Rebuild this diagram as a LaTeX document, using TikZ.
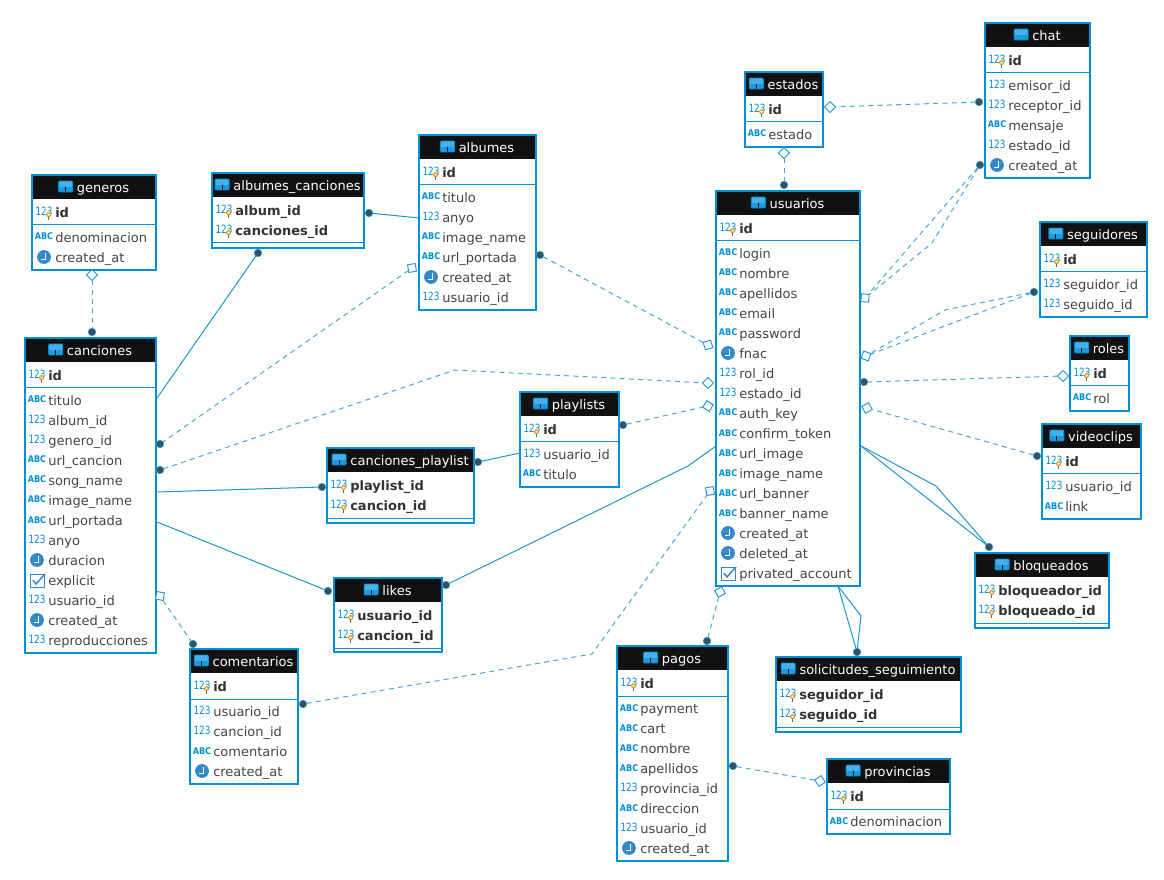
\documentclass[tikz,border=0pt]{standalone}
\usepackage{fontspec}
\setmainfont{DejaVu Sans}
\usetikzlibrary{shapes.geometric}
\definecolor{brd}{HTML}{0090D4}
\definecolor{band}{HTML}{111111}
\definecolor{coltxt}{HTML}{454545}
\definecolor{pktxt}{HTML}{333333}
\definecolor{relc}{HTML}{1F96D2}
\definecolor{dashc}{HTML}{45A8DC}
\definecolor{dotc}{HTML}{38505F}
\definecolor{clk}{HTML}{3489C9}
\definecolor{tablight}{HTML}{45B0EA}
\definecolor{tabdark}{HTML}{1F9AE0}
\definecolor{keyc}{HTML}{E68F12}
\definecolor{keyin}{HTML}{FFEFC8}
\definecolor{stemc}{HTML}{55677A}
\tikzset{
 x=0.75pt,y=-0.75pt,
 tblbox/.style={draw=brd,line width=1.5pt,fill=white,anchor=north west,inner sep=0pt,outer sep=0pt},
 titletxt/.style={anchor=base,inner sep=0pt,text=white,font=\fontsize{9.75}{12}\selectfont},
 coltext/.style={anchor=base west,inner sep=0pt,text=coltxt,font=\fontsize{9.75}{12}\selectfont},
 pktext/.style={anchor=base west,inner sep=0pt,text=pktxt,font=\fontsize{9.75}{12}\selectfont\bfseries},
 numico/.style={anchor=base,inner sep=0pt,text=brd,xscale=.78,transform shape,font=\fontsize{8.5}{10}\selectfont},
 abcico/.style={anchor=base,inner sep=0pt,text=brd,xscale=.88,transform shape,font=\fontsize{6.9}{8}\selectfont\bfseries},
 sepline/.style={draw=brd,line width=0.75pt},
 rel/.style={draw=relc,line width=0.75pt},
 reld/.style={draw=dashc,line width=0.75pt,dash pattern=on 3.75pt off 3.2pt},
 dotn/.style={circle,fill=dotc,draw=relc,line width=0.5pt,minimum size=5.6pt,inner sep=0pt,outer sep=0pt},
 dia/.style={diamond,shape aspect=1,draw=relc,fill=white,line width=0.7pt,minimum size=8.2pt,inner sep=0pt,outer sep=0pt},
}
\newcounter{rowc}
\newcommand\tbl[6]{%
 \def\tbx{#2}\pgfmathsetmacro\cury{#3+37}%
 \pgfmathsetmacro\wdd{(#4-#2)*0.75}\pgfmathsetmacro\htt{(#5-#3)*0.75}%
 \node[tblbox,minimum width=\wdd pt,minimum height=\htt pt] (#1) at (#2,#3) {};
 \fill[band] (#2+1,#3+1) rectangle (#4-1,#3+24);
 \pgfmathsetmacro\tc{(#2+#4)/2+9}%
 \node[titletxt] (#1-title) at (\tc,#3+17.4) {#6};
 \path (#1-title.west);\pgfgetlastxy{\ax}{\ay}%
 \pgfmathsetmacro\tl{\ax/0.75-18}%
 \tabicon{\tl}{#3+6}%
 \def\tbr{#4}%
}
\newcommand\tabicon[2]{%
 \fill[tablight] (#1,#2) rectangle (#1+14,#2+5.6);
 \fill[tabdark] (#1,#2+6.4) rectangle (#1+6.6,#2+11);
 \fill[tabdark] (#1+7.4,#2+6.4) rectangle (#1+14,#2+11);
 \draw[brd,line width=0.7pt,rounded corners=0.8pt] (#1,#2) rectangle (#1+14,#2+11);
}
\newcommand\nextrow{\pgfmathsetmacro\cury{\cury+20}}
\newcommand\numicon{\stepcounter{rowc}\node[numico] (i\arabic{rowc}) at (\tbx+12,\cury+3.2) {123};}
\newcommand\pk[1]{%
 \numicon
 \draw[stemc,line width=0.75pt] (\tbx+16.6,\cury+4.5) -- (\tbx+16.6,\cury+8);
 \draw[keyc,fill=keyin,line width=0.75pt] (\tbx+16.6,\cury+2.6) circle (1.5pt);
 \stepcounter{rowc}\node[pktext] (r\arabic{rowc}) at (\tbx+23,\cury+5.6) {#1};
 \nextrow}
\newcommand\sep{\draw[sepline] (\tbx+1,\cury-7) -- (\tbr-1,\cury-7);\pgfmathsetmacro\cury{\cury+5}}
\newcommand\coltxtn[1]{\stepcounter{rowc}\node[coltext] (r\arabic{rowc}) at (\tbx+23,\cury+5.6) {#1};\nextrow}
\newcommand\num[1]{\numicon\coltxtn{#1}}
\newcommand\abc[1]{\stepcounter{rowc}\node[abcico] (i\arabic{rowc}) at (\tbx+12,\cury+3) {ABC};\coltxtn{#1}}
\newcommand\dat[1]{%
 \fill[clk] (\tbx+12,\cury) circle (5.2pt);
 \draw[white,line width=0.6pt] (\tbx+13,\cury-4) -- (\tbx+13,\cury+2) -- (\tbx+8.5,\cury+2);
 \coltxtn{#1}}
\newcommand\chk[1]{%
 \draw[clk,fill=white,line width=0.7pt] (\tbx+5,\cury-6) rectangle (\tbx+19,\cury+7);
 \draw[clk,line width=1.1pt] (\tbx+8,\cury) -- (\tbx+11,\cury+4) -- (\tbx+20,\cury-6);
 \coltxtn{#1}}
\begin{document}
\begin{tikzpicture}
\useasboundingbox (0,0) rectangle (1164,880);
\fill[white] (0,0) rectangle (1164,880);

\tbl{chat}{985}{23}{1090}{178}{chat}
\pk{id}\sep\num{emisor\_id}\num{receptor\_id}\abc{mensaje}\num{estado\_id}\dat{created\_at}

\tbl{estados}{745}{72}{823}{147}{estados}
\pk{id}\sep\abc{estado}

\tbl{usuarios}{716}{191}{860}{586}{usuarios}
\pk{id}\sep\abc{login}\abc{nombre}\abc{apellidos}\abc{email}\abc{password}\dat{fnac}\num{rol\_id}\num{estado\_id}\abc{auth\_key}\abc{confirm\_token}\abc{url\_image}\abc{image\_name}\abc{url\_banner}\abc{banner\_name}\dat{created\_at}\dat{deleted\_at}\chk{privated\_account}

\tbl{seguidores}{1040}{222}{1147}{317}{seguidores}
\pk{id}\sep\num{seguidor\_id}\num{seguido\_id}

\tbl{roles}{1070}{336}{1129}{411}{roles}
\pk{id}\sep\abc{rol}

\tbl{videoclips}{1042}{424}{1141}{519}{videoclips}
\pk{id}\sep\num{usuario\_id}\abc{link}

\tbl{bloqueados}{975}{553}{1109}{628}{bloqueados}
\pk{bloqueador\_id}\pk{bloqueado\_id}\sep

\tbl{solicitudes}{776}{657}{961}{732}{solicitudes\_seguimiento}
\pk{seguidor\_id}\pk{seguido\_id}\sep

\tbl{pagos}{617}{646}{728}{861}{pagos}
\pk{id}\sep\abc{payment}\abc{cart}\abc{nombre}\abc{apellidos}\num{provincia\_id}\abc{direccion}\num{usuario\_id}\dat{created\_at}

\tbl{provincias}{827}{759}{950}{834}{provincias}
\pk{id}\sep\abc{denominacion}

\tbl{comentarios}{190}{649}{298}{784}{comentarios}
\pk{id}\sep\num{usuario\_id}\num{cancion\_id}\abc{comentario}\dat{created\_at}

\tbl{likes}{334}{578}{442}{652}{likes}
\pk{usuario\_id}\pk{cancion\_id}\sep

\tbl{cplaylist}{327}{448}{474}{523}{canciones\_playlist}
\pk{playlist\_id}\pk{cancion\_id}\sep

\tbl{playlists}{520}{392}{619}{487}{playlists}
\pk{id}\sep\num{usuario\_id}\abc{titulo}

\tbl{albumes}{419}{135}{536}{310}{albumes}
\pk{id}\sep\abc{titulo}\num{anyo}\abc{image\_name}\abc{url\_portada}\dat{created\_at}\num{usuario\_id}

\tbl{acanciones}{212}{173}{364}{248}{albumes\_canciones}
\pk{album\_id}\pk{canciones\_id}\sep

\tbl{generos}{32}{175}{156}{270}{generos}
\pk{id}\sep\abc{denominacion}\dat{created\_at}

\tbl{canciones}{25}{338}{156}{653}{canciones}
\pk{id}\sep\abc{titulo}\num{album\_id}\num{genero\_id}\abc{url\_cancion}\abc{song\_name}\abc{image\_name}\abc{url\_portada}\num{anyo}\dat{duracion}\chk{explicit}\num{usuario\_id}\dat{created\_at}\num{reproducciones}

% end markers
\node[dia] (m1) at (92,275) {};
\node[dotn] (d1) at (92,332) {};
\draw[reld] (m1) -- (d1);

\node[dotn] (d2) at (258,253) {};
\coordinate (c2) at (157,398);
\draw[rel] (d2) -- (c2);

\node[dotn] (d3) at (369,213) {};
\coordinate (c3) at (419,218);
\draw[rel] (d3) -- (c3);

\node[dia,rotate=-35] (m4) at (412,268) {};
\node[dotn] (d4) at (160,444) {};
\draw[reld] (m4) -- (d4);

\node[dotn] (d5) at (540,255) {};
\node[dia,rotate=-28] (m5) at (708,345) {};
\draw[reld] (d5) -- (m5);

\node[dotn] (d6) at (160,470) {};
\coordinate (c6) at (455,370);
\node[dia] (m6) at (708,383) {};
\draw[reld] (d6) -- (c6) -- (m6);

\coordinate (c7) at (157,492);
\node[dotn] (d7) at (322,487) {};
\draw[rel] (c7) -- (d7);

\node[dotn] (d8) at (478,462) {};
\coordinate (c8) at (520,453);
\draw[rel] (d8) -- (c8);

\node[dotn] (d9) at (623,425) {};
\node[dia,rotate=13] (m9) at (708,406) {};
\draw[reld] (d9) -- (m9);

\coordinate (c10) at (157,522);
\node[dotn] (d10) at (328,591) {};
\draw[rel] (c10) -- (d10);

\node[dotn] (d11) at (446,585) {};
\coordinate (c11a) at (688,466);
\coordinate (c11b) at (716,446);
\draw[rel] (d11) -- (c11a) -- (c11b);

\node[dia,rotate=-55] (m12) at (160,596) {};
\node[dotn] (d12) at (193,644) {};
\draw[reld] (m12) -- (d12);

\node[dotn] (d13) at (303,704) {};
\coordinate (c13) at (592,654);
\node[dia,rotate=55] (m13) at (710,491) {};
\draw[reld] (d13) -- (c13) -- (m13);

\node[dotn] (d14) at (707,641) {};
\node[dia,rotate=75] (m14) at (720,592) {};
\draw[reld] (d14) -- (m14);

\coordinate (c15) at (838,586);
\coordinate (c15b) at (861,616);
\node[dotn] (d15) at (857,652) {};
\draw[rel] (c15) -- (d15);
\draw[rel] (c15) -- (c15b) -- (d15);

\coordinate (c16) at (861,446);
\coordinate (c16b) at (936,486);
\node[dotn] (d16) at (989,547) {};
\draw[rel] (c16) -- (d16);
\draw[rel] (c16) -- (c16b) -- (d16);

\node[dotn] (d17) at (1037,456) {};
\node[dia,rotate=-16] (m17) at (867,408) {};
\draw[reld] (d17) -- (m17);

\node[dia] (m18) at (1063,376) {};
\node[dotn] (d18) at (864,382) {};
\draw[reld] (m18) -- (d18);

\node[dotn] (d19) at (1034,292) {};
\node[dia,rotate=25] (m19) at (866,356) {};
\coordinate (c19) at (945,310);
\draw[reld] (d19) -- (m19);
\draw[reld] (d19) -- (c19) -- (m19);

\node[dotn] (d20) at (980,165) {};
\node[dia,rotate=40] (m20) at (865,298) {};
\coordinate (c20) at (932,243);
\draw[reld] (d20) -- (m20);
\draw[reld] (d20) -- (c20) -- (m20);

\node[dotn] (d21) at (979,102) {};
\node[dia] (m21) at (830,107) {};
\draw[reld] (d21) -- (m21);

\node[dia] (m22) at (784,153) {};
\node[dotn] (d22) at (784,185) {};
\draw[reld] (m22) -- (d22);

\node[dotn] (d23) at (733,766) {};
\node[dia,rotate=-12] (m23) at (820,781) {};
\draw[reld] (d23) -- (m23);
\end{tikzpicture}
\end{document}
